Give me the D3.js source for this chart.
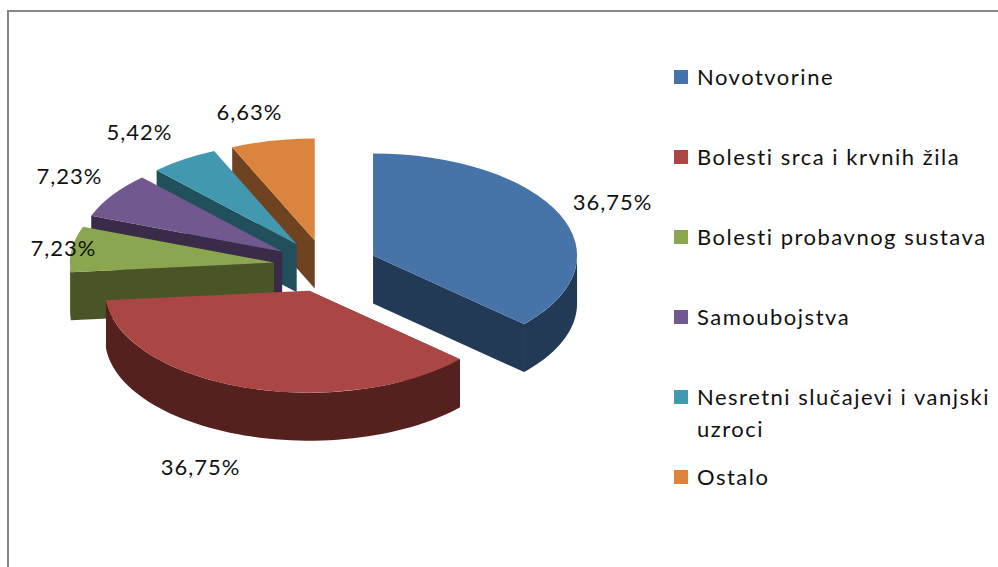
<!DOCTYPE html>
<html>
<head>
<meta charset="utf-8">
<script src="https://cdn.jsdelivr.net/npm/d3@7/dist/d3.min.js"></script>
<style>
html,body{margin:0;padding:0;background:#fff;overflow:hidden}
svg{display:block}
text{font-family:Lato,"Open Sans",sans-serif;fill:#111}
</style>
</head>
<body>
<svg id="chart" width="998" height="567"></svg>
<script>
const categories = ["Novotvorine","Bolesti srca i krvnih žila","Bolesti probavnog sustava","Samoubojstva","Nesretni slučajevi i vanjski uzroci","Ostalo"];
const shares = [36.75,36.75,7.23,7.23,5.42,6.63];
const shareLabels = ["36,75%","36,75%","7,23%","7,23%","5,42%","6,63%"];
const topColors = ["#4673a8","#aa4644","#8aa64f","#71588f","#4198af","#db843d"];
const sideColors = ["#233a57","#55211f","#4a5527","#3a2c49","#224f5c","#6f4321"];

// Layout (not data)
const W = 998, H = 567;
const cx = 325.5, cy = 266, rx = 204, squash = 0.5, depth = 48, explode = 52;
const labelAnchor = [[612.5,210],[200.5,475],[63.5,256],[69.5,184],[139.5,140],[249.5,120]];
const labelSize = 22, legendSize = 22;

const svg = d3.select("#chart");
svg.append("rect").attr("width",W).attr("height",H).attr("fill","#fff");
// chart frame
const framePath = d3.path();
framePath.moveTo(8,H); framePath.lineTo(8,11); framePath.lineTo(W,11);
svg.append("path").attr("d",framePath.toString()).attr("fill","none").attr("stroke","#868686").attr("stroke-width",2);

const pie = d3.pie().value(d=>d).sort(null);
const arcs = pie(shares);

// Tilted-disc projection: angle measured clockwise from 12 o'clock, as in d3.pie
const px = d3.scaleLinear().domain([-1,1]).range([-rx,rx]);
const py = d3.scaleLinear().domain([-1,1]).range([-rx*squash,rx*squash]);
const project = (a,r=1)=>[px(Math.sin(a)*r),py(-Math.cos(a)*r)];

const topArc = d3.arc().innerRadius(0).outerRadius(rx);
const rim = d3.area().x(a=>project(a)[0]).y0(a=>project(a)[1]).y1(a=>project(a)[1]+depth);
const wall = d3.line();

const sliceG = svg.append("g");
// Back slices first so the front ones cover their walls: Ostalo ... Novotvorine
const order = d3.range(arcs.length).reverse().filter(i=>i>1).concat([0,1]);
order.forEach(i=>{
  const s = arcs[i];
  const mid = (s.startAngle+s.endAngle)/2;
  const off = project(mid,explode/rx);
  const g = sliceG.append("g").attr("transform",`translate(${cx+off[0]},${cy+off[1]})`);
  const radialWall = a=>{
    const p = project(a);
    return wall([[0,0],p,[p[0],p[1]+depth],[0,depth]])+"Z";
  };
  // wall facing the viewer: the start edge on the left half, the end edge on the right half
  if (mid < Math.PI) g.append("path").attr("d",radialWall(s.endAngle)).attr("fill",sideColors[i]);
  else g.append("path").attr("d",radialWall(s.startAngle)).attr("fill",sideColors[i]);
  // outer rim: only the part of the arc in the lower half of the disc shows
  const a0 = Math.max(s.startAngle,Math.PI/2), a1 = Math.min(s.endAngle,Math.PI*1.5);
  if (a1 > a0) {
    const steps = d3.range(0,61).map(k=>a0+(a1-a0)*k/60);
    g.append("path").attr("d",rim(steps)).attr("fill",sideColors[i]);
  }
  g.append("path").attr("transform",`scale(1,${squash})`).attr("d",topArc(s)).attr("fill",topColors[i]);
});

// Data labels
svg.append("g").selectAll("text").data(shareLabels).join("text")
  .attr("x",(d,i)=>labelAnchor[i][0]).attr("y",(d,i)=>labelAnchor[i][1])
  .attr("text-anchor","middle").attr("font-size",labelSize).attr("letter-spacing",1).text(d=>d);

// Legend
const legendY = d3.scalePoint().domain(categories).range([70,470]);
const legendLines = {"Nesretni slučajevi i vanjski uzroci":["Nesretni slučajevi i vanjski","uzroci"]};
const legend = svg.append("g");
categories.forEach((c,i)=>{
  const y = legendY(c);
  legend.append("rect").attr("x",674).attr("y",y).attr("width",14).attr("height",14).attr("fill",topColors[i]);
  (legendLines[c]||[c]).forEach((t,k)=>{
    legend.append("text").attr("x",697).attr("y",y+14.5+(k?32:0)).attr("font-size",legendSize)
      .attr("letter-spacing",1.5).text(t);
  });
});
</script>
</body>
</html>
